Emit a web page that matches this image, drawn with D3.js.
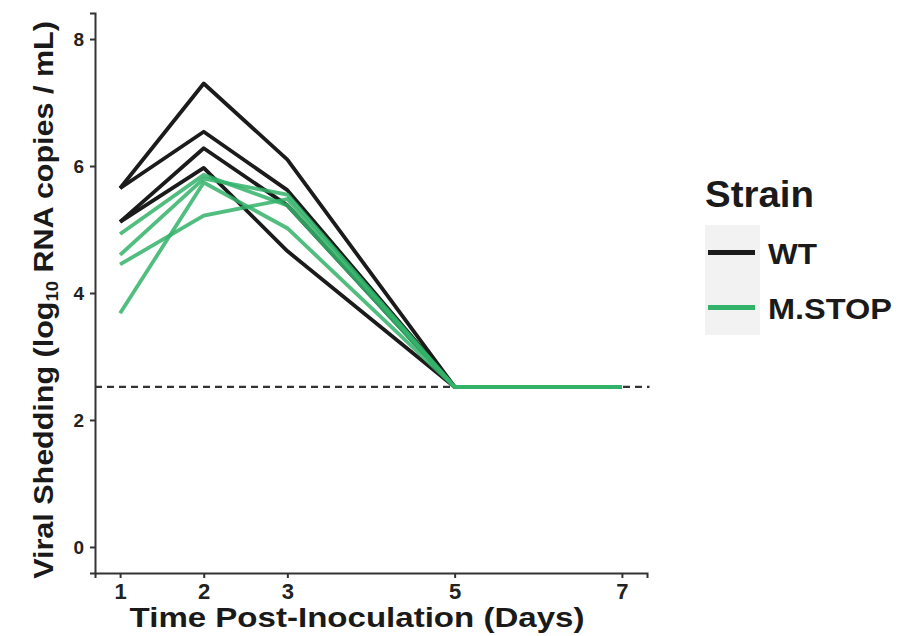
<!DOCTYPE html>
<html>
<head>
<meta charset="utf-8">
<script src="https://cdn.jsdelivr.net/npm/d3@7"></script>
<style>
  html, body { margin: 0; padding: 0; background: #fff; }
  svg text { font-family: "Liberation Sans", Arial, Helvetica, sans-serif; font-weight: bold; }
</style>
</head>
<body>
<svg id="chart" width="914" height="636"></svg>
<script>
// Sampling days (x axis)
const days = [1, 2, 3, 5, 7];
const xTicks = [1, 2, 3, 5, 7];
const yTicks = [0, 2, 4, 6, 8];

// Per-animal viral shedding, log10 RNA copies / mL
const wtSeries = [
  [5.65, 7.30, 6.10, 2.52, 2.52],
  [5.65, 6.54, 5.62, 2.52, 2.52],
  [5.12, 6.28, 5.38, 2.52, 2.52],
  [5.12, 5.97, 4.66, 2.52, 2.52]
];
const mstopSeries = [
  [4.93, 5.86, 5.38, 2.52, 2.52],
  [4.60, 5.80, 5.55, 2.52, 2.52],
  [4.45, 5.22, 5.48, 2.52, 2.52],
  [3.68, 5.74, 5.02, 2.52, 2.52]
];

// Limit of detection
const detectionLimit = 2.52;

const strains = ["WT", "M.STOP"];
const strainColors = ["#1b1b1b", "#33b36a"];

const svg = d3.select("#chart");

const x = d3.scaleLinear().domain([0.7, 7.3]).range([95, 647]);
const y = d3.scaleLinear().domain([-0.41, 8.41]).range([573, 13]);

const color = d3.scaleOrdinal().domain(strains).range(strainColors);

// Stretch a text element horizontally (in its own frame) to a target width
function fitWidth(sel, target, baseTransform) {
  const w = sel.node().getComputedTextLength();
  sel.attr("transform", `${baseTransform} scale(${target / w},1)`);
}

// Axes
const xAxis = svg.append("g")
  .attr("transform", `translate(0,${y.range()[0]})`)
  .call(d3.axisBottom(x).tickValues(xTicks).tickFormat(d3.format("d")).tickSizeOuter(0).tickSize(5).tickPadding(5));
const yAxis = svg.append("g")
  .attr("transform", `translate(${x.range()[0]},0)`)
  .call(d3.axisLeft(y).tickValues(yTicks).tickFormat(d3.format("d")).tickSizeOuter(0).tickSize(5).tickPadding(6));

[xAxis, yAxis].forEach(g => {
  g.select(".domain").attr("stroke", "#333").attr("stroke-width", 2);
  g.selectAll(".tick line").attr("stroke", "#333").attr("stroke-width", 2);
  g.selectAll(".tick text").attr("fill", "#222").style("font-family", "'Liberation Sans', Arial, sans-serif").style("font-weight", "bold");
});
xAxis.selectAll(".tick text").attr("font-size", 22);
yAxis.selectAll(".tick text").attr("font-size", 19);

// Detection limit
svg.append("line")
  .attr("x1", x(0.7)).attr("x2", x(7.33))
  .attr("y1", y(detectionLimit)).attr("y2", y(detectionLimit))
  .attr("stroke", "#333").attr("stroke-width", 2.2)
  .attr("stroke-dasharray", "7,5");

const line = d3.line()
  .x((d, i) => x(days[i]))
  .y(d => y(d));

// Individual trajectories
svg.append("g").selectAll("path")
  .data(wtSeries).join("path")
  .attr("d", line)
  .attr("fill", "none")
  .attr("stroke", color("WT"))
  .attr("stroke-width", 3.8)
  .attr("stroke-linejoin", "round");

svg.append("g").selectAll("path")
  .data(mstopSeries).join("path")
  .attr("d", line)
  .attr("fill", "none")
  .attr("stroke", color("M.STOP"))
  .attr("stroke-width", 3.8)
  .attr("stroke-opacity", 0.85)
  .attr("stroke-linejoin", "round");

// Axis titles
const xTitle = svg.append("text")
  .attr("text-anchor", "middle")
  .attr("font-size", 27)
  .attr("fill", "#1a1a1a")
  .text("Time Post-Inoculation (Days)");
fitWidth(xTitle, 455, "translate(357,627)");

const yTitle = svg.append("text")
  .attr("text-anchor", "middle")
  .attr("font-size", 28)
  .attr("fill", "#1a1a1a");
yTitle.append("tspan").text("Viral Shedding (log");
yTitle.append("tspan").attr("font-size", 17).attr("dy", 5).text("10");
yTitle.append("tspan").attr("dy", -5).text(" RNA copies / mL)");
fitWidth(yTitle, 558, "translate(53,300) rotate(-90)");

// Legend
const legend = svg.append("g");
const legendTitle = legend.append("text")
  .attr("font-size", 36)
  .attr("fill", "#1a1a1a")
  .text("Strain");
fitWidth(legendTitle, 109, "translate(705,207)");

const keyRow = d3.scaleBand().domain(strains).range([225, 335]);
legend.append("rect")
  .attr("x", 705).attr("y", keyRow.range()[0])
  .attr("width", 55).attr("height", keyRow.range()[1] - keyRow.range()[0])
  .attr("fill", "#f2f2f2");

const keys = legend.selectAll("g.key").data(strains).join("g")
  .attr("class", "key")
  .attr("transform", d => `translate(0,${keyRow(d) + keyRow.bandwidth() / 2})`);
keys.append("line")
  .attr("x1", 708).attr("x2", 755)
  .attr("stroke", d => color(d))
  .attr("stroke-width", 5);
keys.append("text")
  .attr("font-size", 30)
  .attr("fill", "#1a1a1a")
  .text(d => d)
  .each(function (d) {
    fitWidth(d3.select(this), d === "WT" ? 49 : 124, "translate(768,11)");
  });
</script>
</body>
</html>
